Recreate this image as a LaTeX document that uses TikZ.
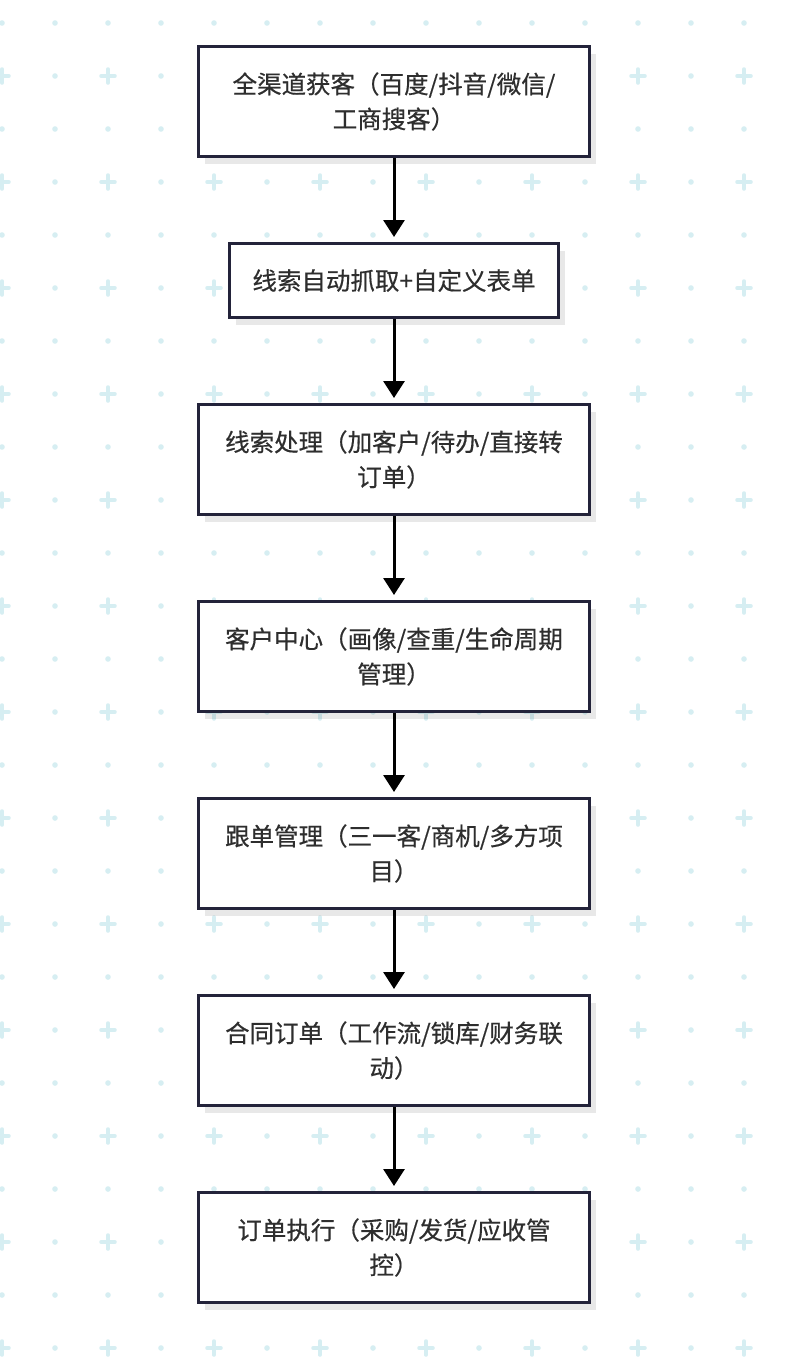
\documentclass[tikz,border=0pt]{standalone}
\usepackage{fontspec}
\setmainfont{Noto Sans CJK SC}[FakeBold=0.5]
\usetikzlibrary{positioning, arrows.meta, shadows}
\definecolor{gridcol}{HTML}{D6EEF2}
\definecolor{boxline}{HTML}{23233A}
\definecolor{textcol}{HTML}{2E2E2E}
\tikzstyle{stage}=[draw=boxline, line width=3pt, fill=white, text=textcol, minimum width=391pt, minimum height=110pt, align=center, font=\fontsize{24.5}{35}\selectfont, drop shadow={shadow xshift=6pt, shadow yshift=-7pt, fill=black, opacity=0.09}]
\tikzstyle{flow}=[line width=3pt, -{Triangle[length=17pt, width=21pt]}, shorten >=5pt]

\begin{document}
\begin{tikzpicture}[x=1pt, y=1pt]
        \useasboundingbox (0,0) rectangle (788,-1366);
        \fill[white] (0,0) rectangle (788,-1366);
        % background dots and crosses
        \foreach \r in {0,...,25} {
            \foreach \c in {0,...,14} {
                \pgfmathtruncatemacro{\kind}{(mod(\r,2)==1 && mod(\c,2)==0) ? 1 : 0}
                \ifnum\kind=1
                    \draw[gridcol, line width=3.5pt, line cap=round] (2+53*\c-7,-23-53*\r) -- (2+53*\c+7,-23-53*\r) (2+53*\c,-23-53*\r-7) -- (2+53*\c,-23-53*\r+7);
                \else
                    \fill[gridcol] (2+53*\c,-23-53*\r) circle (2.8);
                \fi
            }
        }
        \node[stage] (channels) at (394,-101.5) {全渠道获客（百度/抖音/微信/\\工商搜客）};
        \node[stage, minimum width=329pt, minimum height=74pt, below=84pt of channels] (capture) {线索自动抓取+自定义表单};
        \node[stage, below=84pt of capture] (leads) {线索处理（加客户/待办/直接转\\订单）};
        \node[stage, below=84pt of leads] (customers) {客户中心（画像/查重/生命周期\\管理）};
        \node[stage, below=84pt of customers] (followup) {跟单管理（三一客/商机/多方项\\目）};
        \node[stage, below=84pt of followup] (contract) {合同订单（工作流/锁库/财务联\\动）};
        \node[stage, below=84pt of contract] (execution) {订单执行（采购/发货/应收管\\控）};
        \draw[flow] (channels) -- (capture);
        \draw[flow] (capture) -- (leads);
        \draw[flow] (leads) -- (customers);
        \draw[flow] (customers) -- (followup);
        \draw[flow] (followup) -- (contract);
        \draw[flow] (contract) -- (execution);
    \end{tikzpicture}
\end{document}
